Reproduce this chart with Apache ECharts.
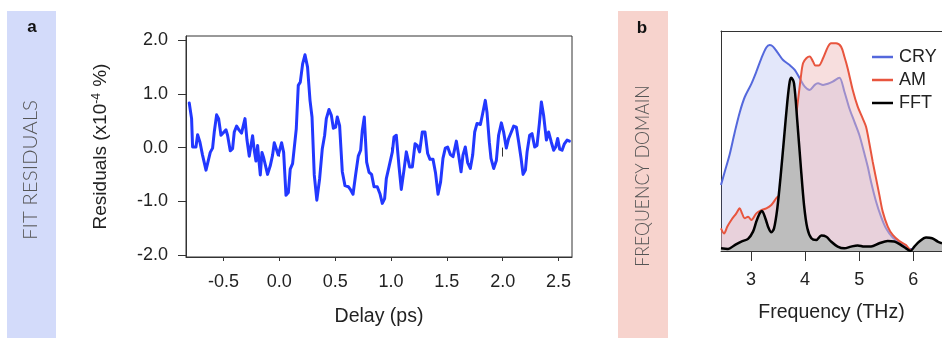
<!DOCTYPE html>
<html>
<head>
<meta charset="utf-8">
<style>
  html, body { margin: 0; padding: 0; background: #fff; }
  #chart { width: 942px; height: 338px; }
</style>
<script src="https://cdn.jsdelivr.net/npm/echarts@6/dist/echarts.min.js"></script>
</head>
<body>
<div id="chart"></div>
<script>
// ---- panel a: residuals of the fit vs pump–probe delay ----
const delay = [-0.806,-0.785,-0.776,-0.746,-0.731,-0.710,-0.687,-0.656,-0.642,-0.618,-0.597,-0.582,-0.561,-0.543,-0.522,-0.508,-0.477,-0.463,-0.439,-0.418,-0.403,-0.382,-0.358,-0.338,-0.307,-0.289,-0.269,-0.239,-0.224,-0.209,-0.194,-0.182,-0.170,-0.155,-0.140,-0.105,-0.081,-0.060,-0.045,-0.030,-0.009,0.021,0.039,0.060,0.081,0.098,0.119,0.134,0.152,0.170,0.188,0.209,0.230,0.253,0.275,0.293,0.313,0.336,0.361,0.385,0.406,0.421,0.445,0.466,0.484,0.504,0.519,0.540,0.564,0.588,0.618,0.639,0.660,0.683,0.707,0.728,0.743,0.761,0.782,0.803,0.826,0.848,0.877,0.901,0.922,0.943,0.958,0.982,1.012,1.027,1.047,1.072,1.092,1.116,1.137,1.167,1.191,1.215,1.235,1.256,1.280,1.304,1.328,1.349,1.376,1.399,1.421,1.444,1.465,1.486,1.507,1.531,1.555,1.585,1.605,1.627,1.644,1.665,1.686,1.710,1.731,1.749,1.770,1.800,1.820,1.844,1.859,1.880,1.895,1.919,1.943,1.963,1.988,2.008,2.032,2.053,2.077,2.098,2.122,2.143,2.164,2.182,2.203,2.218,2.241,2.262,2.286,2.307,2.328,2.346,2.366,2.391,2.411,2.435,2.456,2.474,2.492,2.510,2.531,2.552,2.576,2.597];
const residual = [0.83,0.54,0.01,0.01,0.24,0.10,-0.14,-0.42,-0.30,-0.09,-0.01,0.29,0.61,0.54,0.23,0.20,0.33,0.23,-0.06,-0.02,0.29,0.40,0.32,0.27,0.54,0.14,-0.16,0.22,-0.05,-0.25,0.04,-0.25,-0.51,-0.09,-0.19,-0.50,-0.34,-0.14,0.09,0.06,-0.14,0.09,-0.09,-0.89,-0.84,-0.40,-0.30,-0.29,0.35,1.16,1.22,1.56,1.73,1.50,0.88,0.57,-0.51,-0.98,-0.58,-0.02,0.23,0.54,0.71,0.60,0.36,0.38,0.57,0.41,-0.45,-0.71,-0.73,-0.79,-0.87,-0.51,-0.16,-0.05,0.32,0.57,-0.27,-0.46,-0.50,-0.73,-0.73,-0.86,-1.04,-0.95,-0.58,-0.36,-0.08,0.20,0.23,-0.36,-0.78,-0.42,-0.08,-0.36,-0.36,0.07,0.04,-0.08,0.29,0.29,-0.11,-0.22,-0.22,-0.48,-0.87,-0.64,-0.20,-0.01,0.01,-0.13,-0.17,0.12,-0.14,-0.45,-0.14,0.01,-0.28,-0.39,-0.14,0.29,0.45,0.43,0.63,0.88,0.66,0.10,-0.20,-0.39,-0.24,0.23,0.46,0.29,-0.01,0.17,0.29,0.40,0.38,0.10,-0.20,-0.50,-0.42,-0.08,0.23,0.26,0.01,0.04,0.45,0.85,0.60,0.14,0.29,0.10,-0.05,0.01,0.17,-0.03,-0.05,0.07,0.14,0.12];
const delayTicks = [-0.5, 0.0, 0.5, 1.0, 1.5, 2.0, 2.5];
const delayLongTicks = [0.0, 1.0, 2.0];
const residualTicks = [-2.0, -1.0, 0.0, 1.0, 2.0];

// ---- panel b: spectra in the frequency domain ----
const cryFreq = [2.445,2.514,2.606,2.699,2.791,2.884,3.006,3.098,3.191,3.283,3.345,3.407,3.499,3.592,3.715,3.808,3.900,3.993,4.085,4.178,4.238,4.331,4.420,4.510,4.633,4.725,4.817,4.910,5.002,5.094,5.157,5.218,5.311,5.403,5.495,5.619,5.773,5.926,6.100,6.300,6.530];
const cryAmp = [0.30,0.36,0.44,0.54,0.63,0.70,0.76,0.815,0.876,0.925,0.936,0.929,0.899,0.868,0.845,0.823,0.785,0.747,0.732,0.755,0.762,0.755,0.760,0.770,0.788,0.725,0.649,0.588,0.527,0.444,0.384,0.315,0.225,0.156,0.103,0.061,0.035,0.009,0.006,0.005,0.004];
const amFreq = [2.445,2.501,2.562,2.636,2.728,2.791,2.834,2.884,2.945,3.006,3.098,3.191,3.283,3.375,3.468,3.530,3.620,3.720,3.800,3.869,3.918,3.961,4.022,4.085,4.146,4.189,4.251,4.331,4.423,4.479,4.571,4.664,4.725,4.787,4.880,4.972,5.064,5.126,5.187,5.249,5.311,5.372,5.434,5.527,5.619,5.742,5.865,5.957,6.100,6.300,6.530];
const amAmp = [0.103,0.080,0.111,0.141,0.171,0.194,0.171,0.149,0.156,0.141,0.171,0.186,0.194,0.209,0.240,0.255,0.31,0.42,0.55,0.686,0.785,0.853,0.876,0.884,0.861,0.843,0.843,0.876,0.929,0.944,0.944,0.929,0.884,0.830,0.732,0.656,0.603,0.565,0.490,0.406,0.330,0.255,0.179,0.111,0.073,0.045,0.027,0.005,0.010,0.010,0.010];
const fftFreq = [2.445,2.575,2.699,2.821,2.945,3.037,3.098,3.160,3.203,3.264,3.327,3.375,3.425,3.486,3.549,3.610,3.671,3.715,3.745,3.795,3.856,3.918,3.980,4.041,4.115,4.207,4.299,4.392,4.479,4.602,4.725,4.848,4.972,5.094,5.218,5.372,5.527,5.649,5.773,5.865,5.945,6.019,6.111,6.235,6.346,6.451,6.530];
const fftAmp = [0.012,0.009,0.027,0.043,0.055,0.088,0.134,0.171,0.182,0.149,0.103,0.085,0.103,0.194,0.345,0.512,0.679,0.770,0.788,0.762,0.588,0.391,0.209,0.103,0.058,0.050,0.070,0.065,0.043,0.020,0.012,0.020,0.025,0.020,0.020,0.035,0.045,0.043,0.027,0.012,0.000,0.020,0.043,0.061,0.058,0.043,0.035];
const freqTicks = [3, 4, 5, 6];
const seriesNames = ['CRY', 'AM', 'FFT'];

const zip = (xs, ys) => xs.map((x, i) => [x, ys[i]]);

const SANS = '"Liberation Sans", Arial, Helvetica, sans-serif';
const HAND = 'Lato, "Open Sans", sans-serif';
const INK = '#222';

const chart = echarts.init(document.getElementById('chart'), null, { renderer: 'canvas' });

const tickLabel = { fontFamily: SANS, fontSize: 18, color: INK };
const titleText = { fontFamily: SANS, fontSize: 19.5, color: INK };

chart.setOption({
  animation: false,
  backgroundColor: '#fff',
  graphic: [
    // coloured side strips with the panel letters and captions
    { type: 'rect', left: 7, top: 11, shape: { width: 49, height: 327 }, style: { fill: '#d3dbfa' }, z: -1 },
    { type: 'rect', left: 618, top: 11, shape: { width: 50, height: 327 }, style: { fill: '#f7d3cd' }, z: -1 },
    { type: 'text', x: 32, y: 27, style: { text: 'a', font: 'bold 17px ' + SANS, fill: '#111', align: 'center', verticalAlign: 'middle' } },
    { type: 'text', x: 642, y: 28, style: { text: 'b', font: 'bold 17px ' + SANS, fill: '#111', align: 'center', verticalAlign: 'middle' } },
    { type: 'text', x: 31, y: 170, rotation: Math.PI / 2, scaleX: 1.08,
      style: { text: 'FIT RESIDUALS', font: '300 19px ' + HAND, fill: '#555', align: 'center', verticalAlign: 'middle' } },
    { type: 'text', x: 643, y: 176, rotation: Math.PI / 2, scaleX: 0.93,
      style: { text: 'FREQUENCY DOMAIN', font: '300 19px ' + HAND, fill: '#555', align: 'center', verticalAlign: 'middle' } }
  ],
  legend: {
    data: seriesNames,
    orient: 'vertical',
    left: 867,
    top: 43,
    icon: 'rect',
    itemWidth: 21,
    itemHeight: 2.5,
    itemGap: 5,
    textStyle: { fontFamily: SANS, fontSize: 18, color: INK, padding: [0, 0, 0, 1] }
  },
  grid: [
    { left: 186, top: 36, width: 386, height: 221, show: true, borderColor: '#333', borderWidth: 1, containLabel: false },
    { left: 721, top: 31, width: 221, height: 220, show: false, containLabel: false }
  ],
  xAxis: [
    {
      gridIndex: 0, type: 'value', min: -0.835, max: 2.62, position: 'bottom',
      name: 'Delay (ps)', nameLocation: 'middle', nameGap: 50,
      nameTextStyle: titleText,
      axisLine: { show: true, onZero: false, lineStyle: { color: '#333', width: 1 } },
      axisTick: { show: true, length: 4, customValues: delayTicks, lineStyle: { color: '#333' } },
      axisLabel: { ...tickLabel, margin: 16, customValues: delayTicks, formatter: v => v.toFixed(1) },
      splitLine: { show: false }
    },
    {
      gridIndex: 0, type: 'value', min: -0.835, max: 2.62, position: 'bottom',
      axisLine: { show: false },
      axisTick: { show: true, length: 9, customValues: delayLongTicks, lineStyle: { color: '#333' } },
      axisLabel: { show: false },
      splitLine: { show: false }
    },
    {
      gridIndex: 1, type: 'value', min: 2.445, max: 6.53, position: 'bottom',
      name: 'Frequency (THz)', nameLocation: 'middle', nameGap: 52,
      nameTextStyle: titleText,
      axisLine: { show: true, onZero: false, lineStyle: { color: '#333', width: 1 } },
      axisTick: { show: true, length: 10, customValues: freqTicks, lineStyle: { color: '#333' } },
      axisLabel: { ...tickLabel, margin: 20, customValues: freqTicks },
      splitLine: { show: false }
    },
    {
      gridIndex: 1, type: 'value', min: 2.445, max: 6.53, position: 'top',
      axisLine: { show: true, onZero: false, lineStyle: { color: '#333', width: 1 } },
      axisTick: { show: false }, axisLabel: { show: false }, splitLine: { show: false }
    }
  ],
  yAxis: [
    {
      gridIndex: 0, type: 'value', min: -2.04, max: 2.08,
      name: '{n|Residuals (x10}{s|-4}{n| %)}', nameLocation: 'middle', nameGap: 76,
      nameTextStyle: {
        rich: {
          n: { fontFamily: SANS, fontSize: 19, color: INK },
          s: { fontFamily: SANS, fontSize: 12, color: INK, verticalAlign: 'top', padding: [0, 1, 0, 0] }
        }
      },
      axisLine: { show: true, onZero: false, lineStyle: { color: '#333', width: 1 } },
      axisTick: { show: true, length: 8, customValues: residualTicks, lineStyle: { color: '#333' } },
      axisLabel: { ...tickLabel, margin: 18, customValues: residualTicks, formatter: v => v.toFixed(1) },
      splitLine: { show: false }
    },
    {
      gridIndex: 1, type: 'value', min: 0, max: 1,
      axisLine: { show: true, onZero: false, lineStyle: { color: '#333', width: 1 } },
      axisTick: { show: false }, axisLabel: { show: false }, splitLine: { show: false }
    }
  ],
  series: [
    {
      name: 'residuals', type: 'line', xAxisIndex: 0, yAxisIndex: 0,
      data: zip(delay, residual), symbol: 'none', smooth: false,
      lineStyle: { color: '#2238ff', width: 3, join: 'round', cap: 'round' },
      clip: true
    },
    // each spectrum sits on its own z layer so a later fill covers earlier lines
    {
      name: 'CRY', type: 'line', xAxisIndex: 2, yAxisIndex: 1, z: 3,
      data: zip(cryFreq, cryAmp), symbol: 'none', smooth: 0.3,
      itemStyle: { color: '#5468dc' },
      lineStyle: { color: '#5468dc', width: 2 },
      areaStyle: { color: 'rgba(90,110,225,0.24)', origin: 'start' }
    },
    {
      name: 'AM', type: 'line', xAxisIndex: 2, yAxisIndex: 1, z: 4,
      data: zip(amFreq, amAmp), symbol: 'none', smooth: 0.3,
      itemStyle: { color: '#e8553e' },
      lineStyle: { color: '#e8553e', width: 2 },
      areaStyle: { color: 'rgba(238,185,185,0.68)', origin: 'start' }
    },
    {
      name: 'FFT', type: 'line', xAxisIndex: 2, yAxisIndex: 1, z: 5,
      data: zip(fftFreq, fftAmp), symbol: 'none', smooth: 0.3,
      itemStyle: { color: '#000' },
      lineStyle: { color: '#000', width: 2.5 },
      areaStyle: { color: '#bdbdbd', opacity: 1, origin: 'start' }
    }
  ]
});
</script>
</body>
</html>
